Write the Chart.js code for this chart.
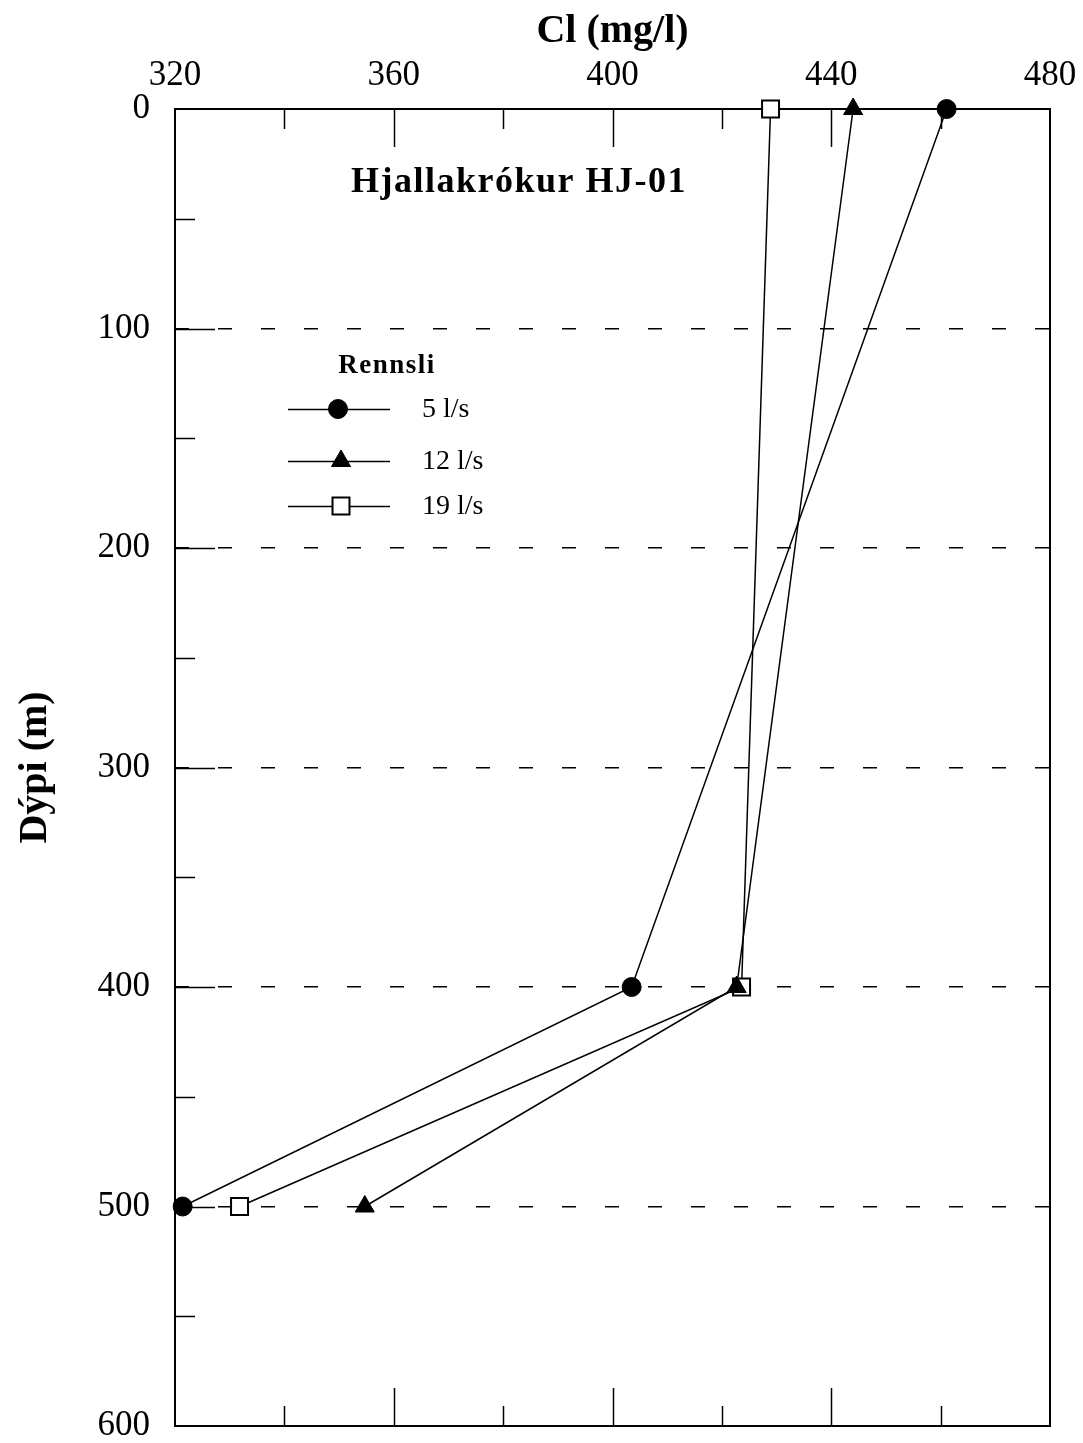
<!DOCTYPE html>
<html><head><meta charset="utf-8">
<script src="https://cdn.jsdelivr.net/npm/chart.js@4.4.1/dist/chart.umd.min.js"></script>
<style>html,body{margin:0;padding:0;background:#fff}#wrap{width:1083px;height:1443px}</style>
</head><body><div id="wrap"><canvas id="c" width="1083" height="1443"></canvas></div>
<script>
// ---- data ----
const depths = [0, 400, 500];
const cl5 = [461.1, 403.5, 321.4];
const cl12 = [444.0, 422.7, 354.7];
const cl19 = [428.9, 423.6, 331.8];
const seriesLabels = ['5 l/s', '12 l/s', '19 l/s'];
const xTitle = 'Cl (mg/l)';
const yTitle = 'Dýpi (m)';
const chartTitle = 'Hjallakrókur HJ-01';
const legendTitle = 'Rennsli';
const xTickLabels = [320, 360, 400, 440, 480];
const yTickLabels = [0, 100, 200, 300, 400, 500, 600];
const yGridLines = [100, 200, 300, 400, 500];

const SERIF = "'Liberation Serif', 'Times New Roman', serif";
function pts(vals) { return vals.map((v, i) => ({x: v, y: depths[i]})); }

const framePlugin = {
  id: 'frame',
  beforeDatasetsDraw(chart) {
    const {ctx, chartArea: a, scales} = chart;
    ctx.save();
    ctx.strokeStyle = '#000';
    ctx.lineWidth = 1.5;
    ctx.beginPath();
    scales.x.ticks.forEach(t => {
      if (t.value <= 320 || t.value >= 480) return;
      const px = Math.round(scales.x.getPixelForValue(t.value)) + 0.5;
      const len = (t.value % 40 === 0) ? 38 : 20;
      ctx.moveTo(px, a.top); ctx.lineTo(px, a.top + len);
      ctx.moveTo(px, a.bottom); ctx.lineTo(px, a.bottom - len);
    });
    scales.y.ticks.forEach(t => {
      if (t.value <= 0 || t.value >= 600) return;
      const py = Math.round(scales.y.getPixelForValue(t.value)) + 0.5;
      const len = (t.value % 100 === 0) ? 40 : 20;
      ctx.moveTo(a.left, py); ctx.lineTo(a.left + len, py);
    });
    ctx.stroke();
    ctx.lineWidth = 2;
    ctx.strokeRect(a.left, a.top, a.right - a.left, a.bottom - a.top);
    ctx.restore();
  },
  afterDraw(chart) {
    const {ctx} = chart;
    ctx.save();
    ctx.fillStyle = '#000';
    // chart title inside plot
    ctx.font = 'bold 36px ' + SERIF;
    ctx.letterSpacing = '1.5px';
    ctx.textAlign = 'center';
    ctx.textBaseline = 'alphabetic';
    ctx.fillText(chartTitle, 519, 192);
    // legend
    ctx.font = 'bold 27px ' + SERIF;
    ctx.letterSpacing = '1.5px';
    ctx.fillText(legendTitle, 387, 373);
    ctx.letterSpacing = '0px';
    const rows = [409, 461, 506];
    chart.data.datasets.forEach((ds, i) => {
      const y = rows[i];
      ctx.strokeStyle = '#000';
      ctx.lineWidth = 1.5;
      ctx.beginPath(); ctx.moveTo(288, y + 0.5); ctx.lineTo(390, y + 0.5); ctx.stroke();
      ctx.fillStyle = ds.pointBackgroundColor;
      ctx.strokeStyle = ds.pointBorderColor;
      ctx.lineWidth = ds.pointBorderWidth;
      const mx = i === 0 ? 338 : 341;
      if (Chart.helpers && Chart.helpers.drawPoint) {
        Chart.helpers.drawPoint(ctx, {pointStyle: ds.pointStyle, radius: ds.pointRadius, rotation: 0, borderWidth: ds.pointBorderWidth}, mx, y);
      }
      ctx.fillStyle = '#000';
      ctx.font = '28px ' + SERIF;
      ctx.textAlign = 'left';
      ctx.textBaseline = 'middle';
      ctx.fillText(ds.label, 422, y + 1);
      ctx.textAlign = 'center';
      ctx.textBaseline = 'alphabetic';
    });
    ctx.restore();
  }
};

const common = {showLine: true, borderColor: '#000', borderWidth: 1.5, clip: false, fill: false, tension: 0};
new Chart(document.getElementById('c'), {
  type: 'scatter',
  data: {
    datasets: [
      Object.assign({label: seriesLabels[0], data: pts(cl5), pointStyle: 'circle', pointRadius: 9.5, pointBackgroundColor: '#000', pointBorderColor: '#000', pointBorderWidth: 1}, common),
      Object.assign({label: seriesLabels[1], data: pts(cl12), pointStyle: 'triangle', pointRadius: 11, pointBackgroundColor: '#000', pointBorderColor: '#000', pointBorderWidth: 1}, common),
      Object.assign({label: seriesLabels[2], data: pts(cl19), pointStyle: 'rect', pointRadius: 12, pointBackgroundColor: '#fff', pointBorderColor: '#000', pointBorderWidth: 2}, common)
    ]
  },
  options: {
    responsive: false,
    animation: false,
    devicePixelRatio: 1,
    layout: {padding: {left: 0, right: 33, top: 0, bottom: 17}},
    plugins: {legend: {display: false}, tooltip: {enabled: false}, title: {display: false}},
    scales: {
      x: {
        type: 'linear', position: 'top', min: 320, max: 480,
        ticks: {stepSize: 20, autoSkip: false, maxRotation: 0, padding: 12, color: '#000',
          font: {family: SERIF, size: 35},
          callback: v => xTickLabels.includes(v) ? String(v) : ''},
        grid: {display: false, drawTicks: false},
        border: {display: false},
        title: {display: true, text: xTitle, color: '#000', font: {family: SERIF, size: 40, weight: 'bold'}, padding: {top: 8, bottom: 0}},
        afterFit: s => { s.height = 109; s.paddingLeft = 0; s.paddingRight = 0; }
      },
      y: {
        type: 'linear', position: 'left', reverse: true, min: 0, max: 600,
        ticks: {stepSize: 50, autoSkip: false, padding: 25, color: '#000',
          font: {family: SERIF, size: 35},
          callback: v => yTickLabels.includes(v) ? String(v) : ''},
        grid: {drawTicks: false, lineWidth: 1.5,
          color: c => (c.tick && yGridLines.includes(c.tick.value)) ? '#000' : 'rgba(0,0,0,0)'},
        border: {display: false, dash: [14, 29]},
        title: {display: true, text: yTitle, color: '#000', font: {family: SERIF, size: 40, weight: 'bold'}, padding: {top: 12, bottom: 0}},
        afterFit: s => { s.width = 175; s.paddingTop = 0; s.paddingBottom = 0; }
      }
    }
  },
  plugins: [framePlugin]
});
</script>
</body></html>
